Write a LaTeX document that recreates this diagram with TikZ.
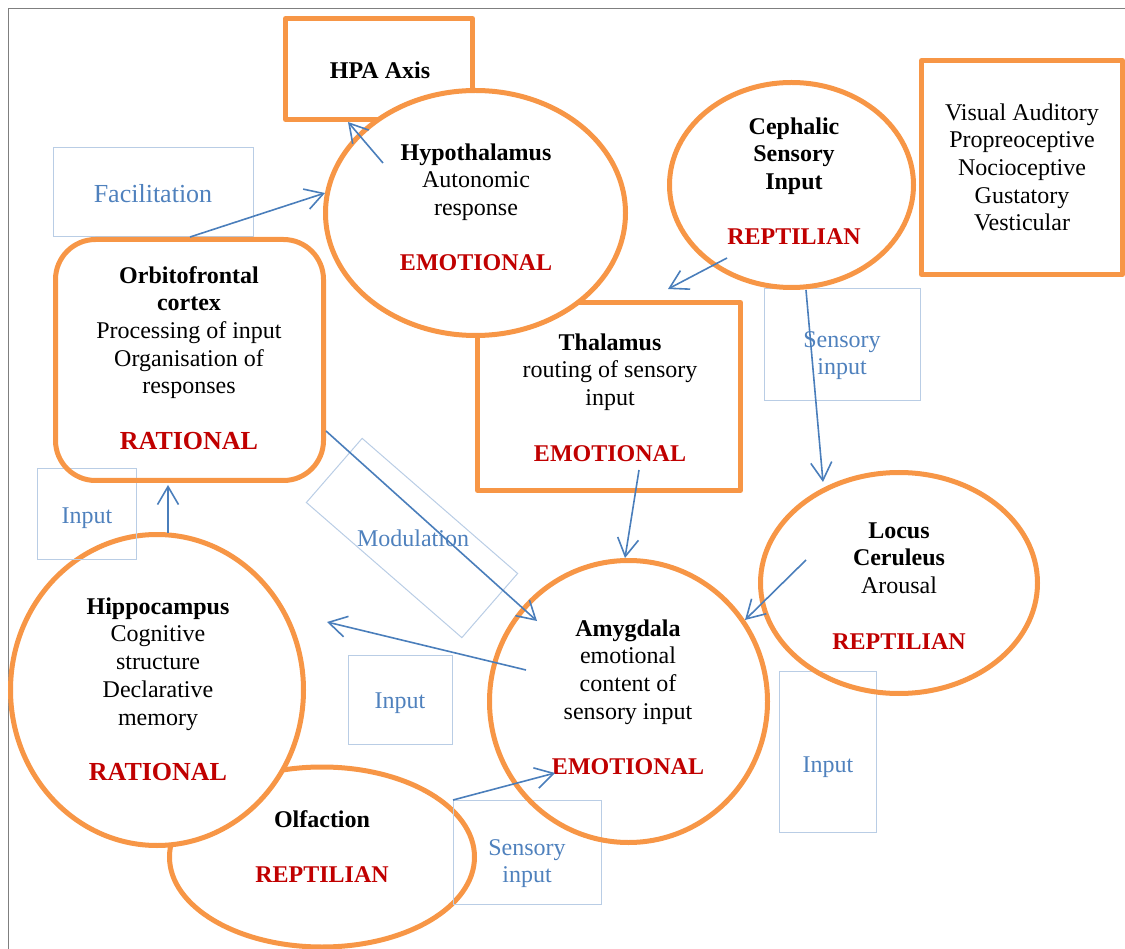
\documentclass[tikz,border=0pt]{standalone}
\usepackage{fontspec}
\setmainfont{Liberation Serif}
\usetikzlibrary{shapes.geometric,arrows.meta}

\definecolor{brainorange}{HTML}{F79646}
\definecolor{labelred}{HTML}{C00000}
\definecolor{tagblue}{HTML}{4F81BD}
\definecolor{tagline}{HTML}{B9CDE5}
\definecolor{arrowblue}{HTML}{4A7EBB}
\definecolor{framegray}{HTML}{7F7F7F}

\newcommand\redlab[1]{\textcolor{labelred}{\bfseries #1}}

\tikzset{
  region/.style={draw=brainorange, line width=5pt},
  oval/.style={region, ellipse, inner sep=0pt},
  box/.style={region, rectangle, inner sep=0pt, line join=round},
  tag/.style={draw=tagline, line width=1pt, rectangle, inner sep=0pt},
  txt/.style={align=center, anchor=north, inner sep=0pt, yshift=19.39pt,
              font=\fontsize{24}{27.7}\selectfont},
  tagtxt/.style={txt, text=tagblue},
  arr/.style={draw=arrowblue, line width=1.6pt,
              -{Straight Barb[length=18pt,width=21pt]}},
}

\begin{document}
\begin{tikzpicture}[x=1pt,y=-1pt]
\useasboundingbox (0,0) rectangle (1125,949);

% page frame
\draw[framegray, line width=1.5pt] (1125,8.5) -- (8.5,8.5) -- (8.5,949);

% shapes that lie partly behind others
\node[box, minimum width=187pt, minimum height=101pt] (hpa) at (379,69) {};
\node[box, minimum width=263pt, minimum height=188pt] (thal) at (609,396.5) {};
\node[oval, minimum width=305pt, minimum height=180pt] (olf) at (322,857) {};

% shapes that cover their neighbours
\node[oval, fill=white, minimum width=300pt, minimum height=245pt] (hyp) at (475.5,213) {};
\node[oval, fill=white, minimum width=293pt, minimum height=311pt] (hip) at (157,690) {};

% light connector tags
\node[tag, minimum width=200pt, minimum height=89pt] (facil-box) at (153,192.5) {};
\node[tag, minimum width=99pt, minimum height=90pt] (inputL-box) at (86.5,514) {};
\node[tag, minimum width=206pt, minimum height=85pt, rotate=-41] (mod-box) at (412,538) {};
\node[tag, minimum width=156pt, minimum height=112pt] (sensT-box) at (842,345) {};
\node[tag, minimum width=104pt, minimum height=89pt] (inputM-box) at (400,699.5) {};
\node[tag, minimum width=97pt, minimum height=161pt] (inputR-box) at (827.5,751.5) {};
\node[tag, minimum width=148pt, minimum height=104pt] (sensB-box) at (527,852) {};

% remaining regions
\node[oval, minimum width=244pt, minimum height=205pt] (ceph) at (791.5,185) {};
\node[box, minimum width=201pt, minimum height=214pt] (senses) at (1022,167.5) {};
\node[box, rounded corners=40pt, minimum width=268pt, minimum height=241pt] (orb) at (189.5,360) {};
\node[oval, minimum width=277pt, minimum height=221pt] (lc) at (899,583) {};
\node[oval, minimum width=278pt, minimum height=282pt] (amy) at (628.5,701.5) {};

% region texts (positions are first baselines)
\node[txt] (hpa-t) at (380,78) {\strut\textbf{HPA Axis}};
\node[txt] (hyp-t) at (476,160) {\strut\textbf{Hypothalamus}\\\strut Autonomic\\\strut response\\[27.7pt]\strut\redlab{EMOTIONAL}};
\node[txt] (ceph-t) at (794,134) {\strut\textbf{Cephalic}\\\strut\textbf{Sensory}\\\strut\textbf{Input}\\[27.7pt]\strut\redlab{REPTILIAN}};
\node[txt] (senses-t) at (1022,120) {\strut Visual Auditory\\\strut Propreoceptive\\\strut Nocioceptive\\\strut Gustatory\\\strut Vesticular};
\node[txt] (orb-t) at (189,283) {\strut\textbf{Orbitofrontal}\\\strut\textbf{cortex}\\\strut Processing of input\\\strut Organisation of\\\strut responses\\[27.7pt]\strut\redlab{\fontsize{26}{27.7}\selectfont RATIONAL}};
\node[txt] (thal-t) at (610,350) {\strut\textbf{Thalamus}\\\strut routing of sensory\\\strut input\\[27.7pt]\strut\redlab{EMOTIONAL}};
\node[txt] (lc-t) at (899,538) {\strut\textbf{Locus}\\\strut\textbf{Ceruleus}\\\strut Arousal\\[27.7pt]\strut\redlab{REPTILIAN}};
\node[txt] (hip-t) at (158,614) {\strut\textbf{Hippocampus}\\\strut Cognitive\\\strut structure\\\strut Declarative\\\strut memory\\[27.7pt]\strut\redlab{\fontsize{26}{27.7}\selectfont RATIONAL}};
\node[txt] (amy-t) at (628,636) {\strut\textbf{Amygdala}\\\strut emotional\\\strut content of\\\strut sensory input\\[27.7pt]\strut\redlab{EMOTIONAL}};
\node[txt] (olf-t) at (322,827) {\strut\textbf{Olfaction}\\[27.7pt]\strut\redlab{REPTILIAN}};

% tag texts
\node[tagtxt, font=\fontsize{26}{27.7}\selectfont] (facil-t) at (153,202) {\strut Facilitation};
\node[tagtxt] (inputL-t) at (87,523) {\strut Input};
\node[tagtxt] (mod-t) at (413,546) {\strut Modulation};
\node[tagtxt] (sensT-t) at (842,347) {\strut Sensory\\\strut input};
\node[tagtxt] (inputM-t) at (400,708) {\strut Input};
\node[tagtxt] (inputR-t) at (828,772) {\strut Input};
\node[tagtxt] (sensB-t) at (527,855) {\strut Sensory\\\strut input};

% connector end points
\coordinate (hyp-out) at (383,163);   \coordinate (hpa-in) at (348,122);
\coordinate (orb-out1) at (190,237);  \coordinate (hyp-in) at (325,193);
\coordinate (ceph-out1) at (727,258); \coordinate (thal-in) at (668,289);
\coordinate (ceph-out2) at (806,290); \coordinate (lc-in) at (823,482);
\coordinate (thal-out) at (639,470);  \coordinate (amy-in1) at (625,558);
\coordinate (orb-out2) at (326,431);  \coordinate (amy-in2) at (537,621);
\coordinate (amy-out) at (526,670);   \coordinate (hip-in) at (327,622);
\coordinate (lc-out) at (806,560);    \coordinate (amy-in3) at (745,620);
\coordinate (hip-out) at (168,533);   \coordinate (orb-in) at (168,485);
\coordinate (olf-out) at (453,800);   \coordinate (amy-in4) at (555,773);

% connectors
\draw[arr] (hyp-out) -- (hpa-in);
\draw[arr] (orb-out1) -- (hyp-in);
\draw[arr] (ceph-out1) -- (thal-in);
\draw[arr] (ceph-out2) -- (lc-in);
\draw[arr] (thal-out) -- (amy-in1);
\draw[arr] (orb-out2) -- (amy-in2);
\draw[arr] (amy-out) -- (hip-in);
\draw[arr] (lc-out) -- (amy-in3);
\draw[arr] (hip-out) -- (orb-in);
\draw[arr] (olf-out) -- (amy-in4);
\end{tikzpicture}
\end{document}
